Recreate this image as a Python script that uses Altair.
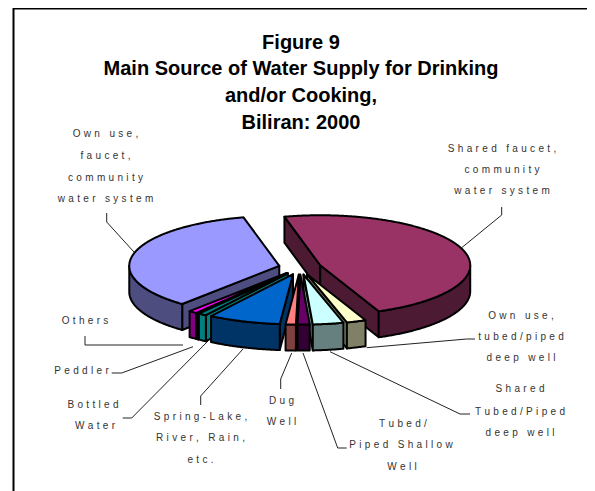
import math
import altair as alt
import pandas as pd

# ---- data -------------------------------------------------------------
sources = ["Shared faucet", "Own use, tubed/piped deep well", "Shared tubed/piped deep well",
           "Tubed/piped shallow well", "Dug well", "Spring-Lake, River, Rain, etc.",
           "Bottled water", "Peddler", "Others", "Own use, faucet"]
shares = [47.5, 2.1, 3.3, 1.3, 1.1, 7.8, 0.9, 0.2, 0.9, 35.0]
top_colors = ["#993366", "#FFFFCC", "#CCFFFF", "#660066", "#FF8080",
              "#0066CC", "#008080", "#000080", "#FF00FF", "#9999FF"]
wall_colors = ["#4D1A33", "#808066", "#668080", "#330033", "#804040",
               "#003366", "#008080", "#000040", "#800080", "#4D4D80"]
draw_order = [9, 0, 8, 7, 6, 1, 2, 5, 4, 3]

title_lines = ["Figure 9", "Main Source of Water Supply for Drinking", "and/or Cooking,", "Biliran: 2000"]
title_y = [42.5, 69, 96, 122.5]

labels = [
    ("Own use,", 105.5, 134), ("faucet,", 105.5, 156), ("community", 105.5, 178), ("water system", 105.5, 198.5),
    ("Shared faucet,", 502, 149), ("community", 502, 170), ("water system", 502, 191),
    ("Own use,", 521, 316), ("tubed/piped", 521, 337), ("deep well", 521, 358),
    ("Shared", 520, 389), ("Tubed/Piped", 520, 412), ("deep well", 520, 433),
    ("Tubed/", 403, 424), ("Piped Shallow", 401, 445), ("Well", 402, 467),
    ("Dug", 281.5, 401), ("Well", 281.5, 422),
    ("Spring-Lake,", 200.5, 417), ("River, Rain,", 200.5, 438), ("etc.", 200.5, 460),
    ("Bottled", 93, 405), ("Water", 95, 426),
    ("Peddler", 81.5, 371), ("Others", 85, 321),
]
leaders = [
    [(106.7, 213), (106.7, 222), (134, 252)],
    [(501.7, 207), (501.7, 215), (461.7, 247.7)],
    [(475, 339), (466.7, 339), (366.7, 347.7)],
    [(470, 414), (460, 414), (330, 351.7)],
    [(346.7, 448), (337.7, 448), (303, 353)],
    [(280.7, 389), (280.7, 379), (291.7, 353)],
    [(200.7, 405), (200.7, 396), (243, 349)],
    [(122.7, 418), (131.7, 418), (210, 339)],
    [(111.7, 373), (121.7, 373), (193, 346.7)],
    [(85, 336), (85, 345), (183, 345)],
]

frame = [(13.5, 491), (13.5, 8.5), (587, 8.5)]

# ---- pie geometry, derived from the shares -------------------------------
CX, CY, A, B, DEPTH, EXPLODE, START = 300.0, 267.5, 150.0, 50.0, 26.0, 0.142, -13.8
W, H = 579, 483


def shift(points):
    return [[round(x - 8, 2), round(y - 8, 2)] for x, y in points]


def feature(points, fill):
    ring = shift(points)
    ring.append(ring[0])
    return {"type": "Feature", "geometry": {"type": "Polygon", "coordinates": [ring]},
            "properties": {"fill": fill}}


def rim(ax, ay, deg):
    r = math.radians(deg)
    return ax + A * math.sin(r), ay - B * math.cos(r)


spans = []
running = START
total = sum(shares)
for s in shares:
    spans.append((running, running + s / total * 360))
    running = spans[-1][1]

features = []
for i in draw_order:
    t1, t2 = spans[i]
    m = math.radians((t1 + t2) / 2)
    ax = CX + EXPLODE * A * math.sin(m)
    ay = CY - EXPLODE * B * math.cos(m)
    for t, face in ((t1, t1 - 90), (t2, t2 + 90)):
        if -math.cos(math.radians(face)) > 0:
            px, py = rim(ax, ay, t)
            features.append(feature([(ax, ay), (px, py), (px, py + DEPTH), (ax, ay + DEPTH)], wall_colors[i]))
    lo, hi = max(t1, 90), min(t2, 270)
    if hi > lo:
        n = max(2, int(hi - lo) * 2)
        arc = [rim(ax, ay, lo + (hi - lo) * k / n) for k in range(n + 1)]
        features.append(feature(arc + [(x, y + DEPTH) for x, y in reversed(arc)], wall_colors[i]))
    n = max(2, int(t2 - t1) * 2)
    arc = [rim(ax, ay, t1 + (t2 - t1) * k / n) for k in range(n + 1)]
    features.append(feature([(ax, ay)] + arc, top_colors[i]))

# ---- chart -------------------------------------------------------------
TRACK = "\u2004"


def tracked(s):
    return TRACK.join(s)


x_scale = alt.Scale(domain=[8, 587], range=[0, W])
y_scale = alt.Scale(domain=[491, 8])
X = alt.X("x:Q", scale=x_scale, axis=None)
Y = alt.Y("y:Q", scale=y_scale, axis=None)

pie = alt.Chart(alt.Data(values=features)).mark_geoshape(
    stroke="black", strokeWidth=2, strokeJoin="round"
).encode(fill=alt.Fill("properties.fill:N", scale=None)).project(
    type="identity", scale=1, translate=[0, 0]
)

leader_rows = [{"id": i, "k": k, "x": p[0], "y": p[1]} for i, pts in enumerate(leaders) for k, p in enumerate(pts)]
leader_layer = alt.Chart(pd.DataFrame(leader_rows)).mark_line(
    color="#222222", strokeWidth=1
).encode(x=X, y=Y, detail="id:N", order="k:Q")

frame_rows = [{"k": k, "x": p[0], "y": p[1]} for k, p in enumerate(frame)]
frame_layer = alt.Chart(pd.DataFrame(frame_rows)).mark_line(
    color="black", strokeWidth=2
).encode(x=X, y=Y, order="k:Q")

title_df = pd.DataFrame({"text": title_lines, "y": title_y, "x": [301] * 4})
title_layer = alt.Chart(title_df).mark_text(
    font="Liberation Sans", fontWeight="bold", fontSize=20, color="black", align="center", baseline="middle"
).encode(x=X, y=Y, text="text:N")

label_df = pd.DataFrame([{"text": tracked(t), "x": x, "y": y} for t, x, y in labels])
label_layer = alt.Chart(label_df).mark_text(
    font="Liberation Sans", fontSize=10, color="#333333", align="center", baseline="middle"
).encode(x=X, y=Y, text="text:N")

chart = alt.layer(frame_layer, leader_layer, pie, title_layer, label_layer).properties(
    width=W, height=H, padding=0, autosize="none"
).configure_view(stroke=None)

chart.save("out.html", embed_options={"renderer": "svg", "actions": False})
